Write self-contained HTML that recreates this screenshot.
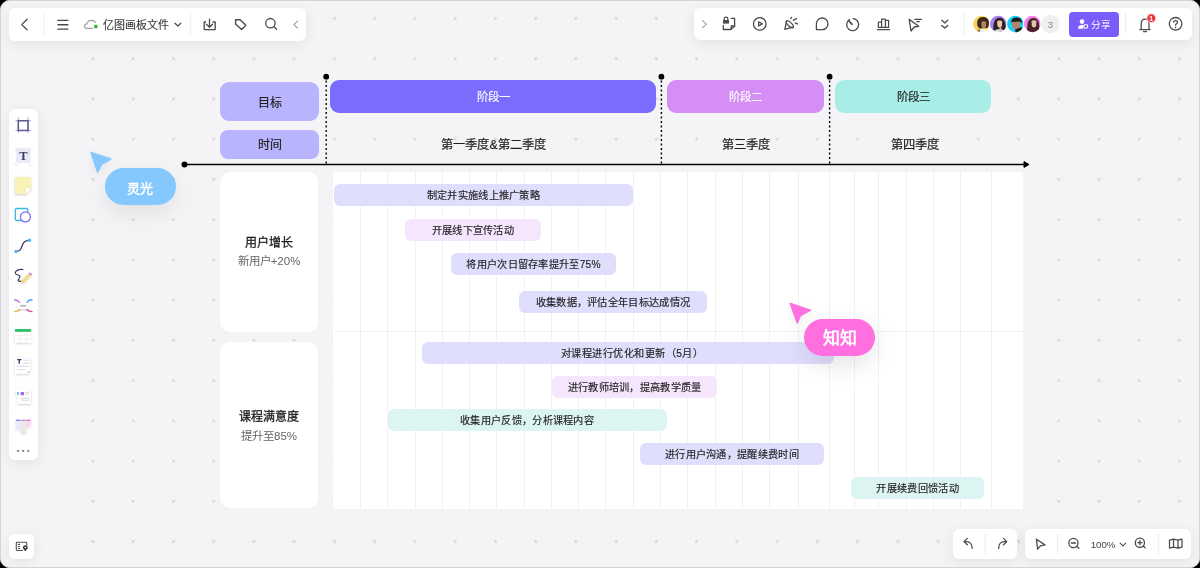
<!DOCTYPE html>
<html lang="zh-CN"><head><meta charset="utf-8">
<style>
html,body{margin:0;padding:0;width:1200px;height:568px;overflow:hidden;background:#000;}
body{font-family:"Liberation Sans",sans-serif;}
#win{position:absolute;left:0;top:0;width:1200px;height:568px;border-radius:10px;background:#f4f4f6;overflow:hidden;will-change:transform;}
#brd{position:absolute;left:0;top:0;width:1198px;height:566px;border:1px solid #d4d4d6;border-radius:10px;}
.a{position:absolute;}
.bar{position:absolute;height:22px;border-radius:6px;font-size:10.2px;letter-spacing:0.3px;text-indent:0.3px;color:#1f1f1f;text-align:center;line-height:23.3px;white-space:nowrap;-webkit-text-stroke:0.15px #1f1f1f;}
.lav{background:#e0defd;}
.pnk{background:#f5e6fd;}
.mnt{background:#dcf5f2;}
.tb{position:absolute;background:#fff;border-radius:6px;box-shadow:0 3px 14px rgba(0,0,0,0.075);}
.stg{position:absolute;border-radius:9px;color:#fff;font-size:11.5px;text-align:center;-webkit-text-stroke:0.1px #fff;}
.hdr{position:absolute;font-size:12.3px;color:#1f1f1f;text-align:center;-webkit-text-stroke:0.2px #1f1f1f;}
.vl{position:absolute;top:0;width:1px;height:337px;background:#f1f1f4;}
.lbl{position:absolute;left:220px;width:98px;background:#fff;border-radius:10px;text-align:center;}
svg{position:absolute;overflow:visible;}
</style></head><body>
<div id="win">
<svg style="left:0;top:0" width="1200" height="568"><g fill="#dcdcdd"><circle cx="93.00" cy="18.40" r="1.65"/><circle cx="93.00" cy="58.64" r="1.65"/><circle cx="93.00" cy="98.88" r="1.65"/><circle cx="93.00" cy="139.12" r="1.65"/><circle cx="93.00" cy="179.36" r="1.65"/><circle cx="93.00" cy="219.60" r="1.65"/><circle cx="93.00" cy="259.84" r="1.65"/><circle cx="93.00" cy="300.08" r="1.65"/><circle cx="93.00" cy="340.32" r="1.65"/><circle cx="93.00" cy="380.56" r="1.65"/><circle cx="93.00" cy="420.80" r="1.65"/><circle cx="93.00" cy="461.04" r="1.65"/><circle cx="93.00" cy="501.28" r="1.65"/><circle cx="93.00" cy="541.52" r="1.65"/><circle cx="133.24" cy="18.40" r="1.65"/><circle cx="133.24" cy="58.64" r="1.65"/><circle cx="133.24" cy="98.88" r="1.65"/><circle cx="133.24" cy="139.12" r="1.65"/><circle cx="133.24" cy="179.36" r="1.65"/><circle cx="133.24" cy="219.60" r="1.65"/><circle cx="133.24" cy="259.84" r="1.65"/><circle cx="133.24" cy="300.08" r="1.65"/><circle cx="133.24" cy="340.32" r="1.65"/><circle cx="133.24" cy="380.56" r="1.65"/><circle cx="133.24" cy="420.80" r="1.65"/><circle cx="133.24" cy="461.04" r="1.65"/><circle cx="133.24" cy="501.28" r="1.65"/><circle cx="133.24" cy="541.52" r="1.65"/><circle cx="173.48" cy="18.40" r="1.65"/><circle cx="173.48" cy="58.64" r="1.65"/><circle cx="173.48" cy="98.88" r="1.65"/><circle cx="173.48" cy="139.12" r="1.65"/><circle cx="173.48" cy="179.36" r="1.65"/><circle cx="173.48" cy="219.60" r="1.65"/><circle cx="173.48" cy="259.84" r="1.65"/><circle cx="173.48" cy="300.08" r="1.65"/><circle cx="173.48" cy="340.32" r="1.65"/><circle cx="173.48" cy="380.56" r="1.65"/><circle cx="173.48" cy="420.80" r="1.65"/><circle cx="173.48" cy="461.04" r="1.65"/><circle cx="173.48" cy="501.28" r="1.65"/><circle cx="173.48" cy="541.52" r="1.65"/><circle cx="213.72" cy="18.40" r="1.65"/><circle cx="213.72" cy="58.64" r="1.65"/><circle cx="213.72" cy="98.88" r="1.65"/><circle cx="213.72" cy="139.12" r="1.65"/><circle cx="213.72" cy="179.36" r="1.65"/><circle cx="213.72" cy="219.60" r="1.65"/><circle cx="213.72" cy="259.84" r="1.65"/><circle cx="213.72" cy="300.08" r="1.65"/><circle cx="213.72" cy="340.32" r="1.65"/><circle cx="213.72" cy="380.56" r="1.65"/><circle cx="213.72" cy="420.80" r="1.65"/><circle cx="213.72" cy="461.04" r="1.65"/><circle cx="213.72" cy="501.28" r="1.65"/><circle cx="213.72" cy="541.52" r="1.65"/><circle cx="253.96" cy="18.40" r="1.65"/><circle cx="253.96" cy="58.64" r="1.65"/><circle cx="253.96" cy="98.88" r="1.65"/><circle cx="253.96" cy="139.12" r="1.65"/><circle cx="253.96" cy="179.36" r="1.65"/><circle cx="253.96" cy="219.60" r="1.65"/><circle cx="253.96" cy="259.84" r="1.65"/><circle cx="253.96" cy="300.08" r="1.65"/><circle cx="253.96" cy="340.32" r="1.65"/><circle cx="253.96" cy="380.56" r="1.65"/><circle cx="253.96" cy="420.80" r="1.65"/><circle cx="253.96" cy="461.04" r="1.65"/><circle cx="253.96" cy="501.28" r="1.65"/><circle cx="253.96" cy="541.52" r="1.65"/><circle cx="294.20" cy="18.40" r="1.65"/><circle cx="294.20" cy="58.64" r="1.65"/><circle cx="294.20" cy="98.88" r="1.65"/><circle cx="294.20" cy="139.12" r="1.65"/><circle cx="294.20" cy="179.36" r="1.65"/><circle cx="294.20" cy="219.60" r="1.65"/><circle cx="294.20" cy="259.84" r="1.65"/><circle cx="294.20" cy="300.08" r="1.65"/><circle cx="294.20" cy="340.32" r="1.65"/><circle cx="294.20" cy="380.56" r="1.65"/><circle cx="294.20" cy="420.80" r="1.65"/><circle cx="294.20" cy="461.04" r="1.65"/><circle cx="294.20" cy="501.28" r="1.65"/><circle cx="294.20" cy="541.52" r="1.65"/><circle cx="334.44" cy="18.40" r="1.65"/><circle cx="334.44" cy="58.64" r="1.65"/><circle cx="334.44" cy="98.88" r="1.65"/><circle cx="334.44" cy="139.12" r="1.65"/><circle cx="334.44" cy="179.36" r="1.65"/><circle cx="334.44" cy="219.60" r="1.65"/><circle cx="334.44" cy="259.84" r="1.65"/><circle cx="334.44" cy="300.08" r="1.65"/><circle cx="334.44" cy="340.32" r="1.65"/><circle cx="334.44" cy="380.56" r="1.65"/><circle cx="334.44" cy="420.80" r="1.65"/><circle cx="334.44" cy="461.04" r="1.65"/><circle cx="334.44" cy="501.28" r="1.65"/><circle cx="334.44" cy="541.52" r="1.65"/><circle cx="374.68" cy="18.40" r="1.65"/><circle cx="374.68" cy="58.64" r="1.65"/><circle cx="374.68" cy="98.88" r="1.65"/><circle cx="374.68" cy="139.12" r="1.65"/><circle cx="374.68" cy="179.36" r="1.65"/><circle cx="374.68" cy="219.60" r="1.65"/><circle cx="374.68" cy="259.84" r="1.65"/><circle cx="374.68" cy="300.08" r="1.65"/><circle cx="374.68" cy="340.32" r="1.65"/><circle cx="374.68" cy="380.56" r="1.65"/><circle cx="374.68" cy="420.80" r="1.65"/><circle cx="374.68" cy="461.04" r="1.65"/><circle cx="374.68" cy="501.28" r="1.65"/><circle cx="374.68" cy="541.52" r="1.65"/><circle cx="414.92" cy="18.40" r="1.65"/><circle cx="414.92" cy="58.64" r="1.65"/><circle cx="414.92" cy="98.88" r="1.65"/><circle cx="414.92" cy="139.12" r="1.65"/><circle cx="414.92" cy="179.36" r="1.65"/><circle cx="414.92" cy="219.60" r="1.65"/><circle cx="414.92" cy="259.84" r="1.65"/><circle cx="414.92" cy="300.08" r="1.65"/><circle cx="414.92" cy="340.32" r="1.65"/><circle cx="414.92" cy="380.56" r="1.65"/><circle cx="414.92" cy="420.80" r="1.65"/><circle cx="414.92" cy="461.04" r="1.65"/><circle cx="414.92" cy="501.28" r="1.65"/><circle cx="414.92" cy="541.52" r="1.65"/><circle cx="455.16" cy="18.40" r="1.65"/><circle cx="455.16" cy="58.64" r="1.65"/><circle cx="455.16" cy="98.88" r="1.65"/><circle cx="455.16" cy="139.12" r="1.65"/><circle cx="455.16" cy="179.36" r="1.65"/><circle cx="455.16" cy="219.60" r="1.65"/><circle cx="455.16" cy="259.84" r="1.65"/><circle cx="455.16" cy="300.08" r="1.65"/><circle cx="455.16" cy="340.32" r="1.65"/><circle cx="455.16" cy="380.56" r="1.65"/><circle cx="455.16" cy="420.80" r="1.65"/><circle cx="455.16" cy="461.04" r="1.65"/><circle cx="455.16" cy="501.28" r="1.65"/><circle cx="455.16" cy="541.52" r="1.65"/><circle cx="495.40" cy="18.40" r="1.65"/><circle cx="495.40" cy="58.64" r="1.65"/><circle cx="495.40" cy="98.88" r="1.65"/><circle cx="495.40" cy="139.12" r="1.65"/><circle cx="495.40" cy="179.36" r="1.65"/><circle cx="495.40" cy="219.60" r="1.65"/><circle cx="495.40" cy="259.84" r="1.65"/><circle cx="495.40" cy="300.08" r="1.65"/><circle cx="495.40" cy="340.32" r="1.65"/><circle cx="495.40" cy="380.56" r="1.65"/><circle cx="495.40" cy="420.80" r="1.65"/><circle cx="495.40" cy="461.04" r="1.65"/><circle cx="495.40" cy="501.28" r="1.65"/><circle cx="495.40" cy="541.52" r="1.65"/><circle cx="535.64" cy="18.40" r="1.65"/><circle cx="535.64" cy="58.64" r="1.65"/><circle cx="535.64" cy="98.88" r="1.65"/><circle cx="535.64" cy="139.12" r="1.65"/><circle cx="535.64" cy="179.36" r="1.65"/><circle cx="535.64" cy="219.60" r="1.65"/><circle cx="535.64" cy="259.84" r="1.65"/><circle cx="535.64" cy="300.08" r="1.65"/><circle cx="535.64" cy="340.32" r="1.65"/><circle cx="535.64" cy="380.56" r="1.65"/><circle cx="535.64" cy="420.80" r="1.65"/><circle cx="535.64" cy="461.04" r="1.65"/><circle cx="535.64" cy="501.28" r="1.65"/><circle cx="535.64" cy="541.52" r="1.65"/><circle cx="575.88" cy="18.40" r="1.65"/><circle cx="575.88" cy="58.64" r="1.65"/><circle cx="575.88" cy="98.88" r="1.65"/><circle cx="575.88" cy="139.12" r="1.65"/><circle cx="575.88" cy="179.36" r="1.65"/><circle cx="575.88" cy="219.60" r="1.65"/><circle cx="575.88" cy="259.84" r="1.65"/><circle cx="575.88" cy="300.08" r="1.65"/><circle cx="575.88" cy="340.32" r="1.65"/><circle cx="575.88" cy="380.56" r="1.65"/><circle cx="575.88" cy="420.80" r="1.65"/><circle cx="575.88" cy="461.04" r="1.65"/><circle cx="575.88" cy="501.28" r="1.65"/><circle cx="575.88" cy="541.52" r="1.65"/><circle cx="616.12" cy="18.40" r="1.65"/><circle cx="616.12" cy="58.64" r="1.65"/><circle cx="616.12" cy="98.88" r="1.65"/><circle cx="616.12" cy="139.12" r="1.65"/><circle cx="616.12" cy="179.36" r="1.65"/><circle cx="616.12" cy="219.60" r="1.65"/><circle cx="616.12" cy="259.84" r="1.65"/><circle cx="616.12" cy="300.08" r="1.65"/><circle cx="616.12" cy="340.32" r="1.65"/><circle cx="616.12" cy="380.56" r="1.65"/><circle cx="616.12" cy="420.80" r="1.65"/><circle cx="616.12" cy="461.04" r="1.65"/><circle cx="616.12" cy="501.28" r="1.65"/><circle cx="616.12" cy="541.52" r="1.65"/><circle cx="656.36" cy="18.40" r="1.65"/><circle cx="656.36" cy="58.64" r="1.65"/><circle cx="656.36" cy="98.88" r="1.65"/><circle cx="656.36" cy="139.12" r="1.65"/><circle cx="656.36" cy="179.36" r="1.65"/><circle cx="656.36" cy="219.60" r="1.65"/><circle cx="656.36" cy="259.84" r="1.65"/><circle cx="656.36" cy="300.08" r="1.65"/><circle cx="656.36" cy="340.32" r="1.65"/><circle cx="656.36" cy="380.56" r="1.65"/><circle cx="656.36" cy="420.80" r="1.65"/><circle cx="656.36" cy="461.04" r="1.65"/><circle cx="656.36" cy="501.28" r="1.65"/><circle cx="656.36" cy="541.52" r="1.65"/><circle cx="696.60" cy="18.40" r="1.65"/><circle cx="696.60" cy="58.64" r="1.65"/><circle cx="696.60" cy="98.88" r="1.65"/><circle cx="696.60" cy="139.12" r="1.65"/><circle cx="696.60" cy="179.36" r="1.65"/><circle cx="696.60" cy="219.60" r="1.65"/><circle cx="696.60" cy="259.84" r="1.65"/><circle cx="696.60" cy="300.08" r="1.65"/><circle cx="696.60" cy="340.32" r="1.65"/><circle cx="696.60" cy="380.56" r="1.65"/><circle cx="696.60" cy="420.80" r="1.65"/><circle cx="696.60" cy="461.04" r="1.65"/><circle cx="696.60" cy="501.28" r="1.65"/><circle cx="696.60" cy="541.52" r="1.65"/><circle cx="736.84" cy="18.40" r="1.65"/><circle cx="736.84" cy="58.64" r="1.65"/><circle cx="736.84" cy="98.88" r="1.65"/><circle cx="736.84" cy="139.12" r="1.65"/><circle cx="736.84" cy="179.36" r="1.65"/><circle cx="736.84" cy="219.60" r="1.65"/><circle cx="736.84" cy="259.84" r="1.65"/><circle cx="736.84" cy="300.08" r="1.65"/><circle cx="736.84" cy="340.32" r="1.65"/><circle cx="736.84" cy="380.56" r="1.65"/><circle cx="736.84" cy="420.80" r="1.65"/><circle cx="736.84" cy="461.04" r="1.65"/><circle cx="736.84" cy="501.28" r="1.65"/><circle cx="736.84" cy="541.52" r="1.65"/><circle cx="777.08" cy="18.40" r="1.65"/><circle cx="777.08" cy="58.64" r="1.65"/><circle cx="777.08" cy="98.88" r="1.65"/><circle cx="777.08" cy="139.12" r="1.65"/><circle cx="777.08" cy="179.36" r="1.65"/><circle cx="777.08" cy="219.60" r="1.65"/><circle cx="777.08" cy="259.84" r="1.65"/><circle cx="777.08" cy="300.08" r="1.65"/><circle cx="777.08" cy="340.32" r="1.65"/><circle cx="777.08" cy="380.56" r="1.65"/><circle cx="777.08" cy="420.80" r="1.65"/><circle cx="777.08" cy="461.04" r="1.65"/><circle cx="777.08" cy="501.28" r="1.65"/><circle cx="777.08" cy="541.52" r="1.65"/><circle cx="817.32" cy="18.40" r="1.65"/><circle cx="817.32" cy="58.64" r="1.65"/><circle cx="817.32" cy="98.88" r="1.65"/><circle cx="817.32" cy="139.12" r="1.65"/><circle cx="817.32" cy="179.36" r="1.65"/><circle cx="817.32" cy="219.60" r="1.65"/><circle cx="817.32" cy="259.84" r="1.65"/><circle cx="817.32" cy="300.08" r="1.65"/><circle cx="817.32" cy="340.32" r="1.65"/><circle cx="817.32" cy="380.56" r="1.65"/><circle cx="817.32" cy="420.80" r="1.65"/><circle cx="817.32" cy="461.04" r="1.65"/><circle cx="817.32" cy="501.28" r="1.65"/><circle cx="817.32" cy="541.52" r="1.65"/><circle cx="857.56" cy="18.40" r="1.65"/><circle cx="857.56" cy="58.64" r="1.65"/><circle cx="857.56" cy="98.88" r="1.65"/><circle cx="857.56" cy="139.12" r="1.65"/><circle cx="857.56" cy="179.36" r="1.65"/><circle cx="857.56" cy="219.60" r="1.65"/><circle cx="857.56" cy="259.84" r="1.65"/><circle cx="857.56" cy="300.08" r="1.65"/><circle cx="857.56" cy="340.32" r="1.65"/><circle cx="857.56" cy="380.56" r="1.65"/><circle cx="857.56" cy="420.80" r="1.65"/><circle cx="857.56" cy="461.04" r="1.65"/><circle cx="857.56" cy="501.28" r="1.65"/><circle cx="857.56" cy="541.52" r="1.65"/><circle cx="897.80" cy="18.40" r="1.65"/><circle cx="897.80" cy="58.64" r="1.65"/><circle cx="897.80" cy="98.88" r="1.65"/><circle cx="897.80" cy="139.12" r="1.65"/><circle cx="897.80" cy="179.36" r="1.65"/><circle cx="897.80" cy="219.60" r="1.65"/><circle cx="897.80" cy="259.84" r="1.65"/><circle cx="897.80" cy="300.08" r="1.65"/><circle cx="897.80" cy="340.32" r="1.65"/><circle cx="897.80" cy="380.56" r="1.65"/><circle cx="897.80" cy="420.80" r="1.65"/><circle cx="897.80" cy="461.04" r="1.65"/><circle cx="897.80" cy="501.28" r="1.65"/><circle cx="897.80" cy="541.52" r="1.65"/><circle cx="938.04" cy="18.40" r="1.65"/><circle cx="938.04" cy="58.64" r="1.65"/><circle cx="938.04" cy="98.88" r="1.65"/><circle cx="938.04" cy="139.12" r="1.65"/><circle cx="938.04" cy="179.36" r="1.65"/><circle cx="938.04" cy="219.60" r="1.65"/><circle cx="938.04" cy="259.84" r="1.65"/><circle cx="938.04" cy="300.08" r="1.65"/><circle cx="938.04" cy="340.32" r="1.65"/><circle cx="938.04" cy="380.56" r="1.65"/><circle cx="938.04" cy="420.80" r="1.65"/><circle cx="938.04" cy="461.04" r="1.65"/><circle cx="938.04" cy="501.28" r="1.65"/><circle cx="938.04" cy="541.52" r="1.65"/><circle cx="978.28" cy="18.40" r="1.65"/><circle cx="978.28" cy="58.64" r="1.65"/><circle cx="978.28" cy="98.88" r="1.65"/><circle cx="978.28" cy="139.12" r="1.65"/><circle cx="978.28" cy="179.36" r="1.65"/><circle cx="978.28" cy="219.60" r="1.65"/><circle cx="978.28" cy="259.84" r="1.65"/><circle cx="978.28" cy="300.08" r="1.65"/><circle cx="978.28" cy="340.32" r="1.65"/><circle cx="978.28" cy="380.56" r="1.65"/><circle cx="978.28" cy="420.80" r="1.65"/><circle cx="978.28" cy="461.04" r="1.65"/><circle cx="978.28" cy="501.28" r="1.65"/><circle cx="978.28" cy="541.52" r="1.65"/><circle cx="1018.52" cy="18.40" r="1.65"/><circle cx="1018.52" cy="58.64" r="1.65"/><circle cx="1018.52" cy="98.88" r="1.65"/><circle cx="1018.52" cy="139.12" r="1.65"/><circle cx="1018.52" cy="179.36" r="1.65"/><circle cx="1018.52" cy="219.60" r="1.65"/><circle cx="1018.52" cy="259.84" r="1.65"/><circle cx="1018.52" cy="300.08" r="1.65"/><circle cx="1018.52" cy="340.32" r="1.65"/><circle cx="1018.52" cy="380.56" r="1.65"/><circle cx="1018.52" cy="420.80" r="1.65"/><circle cx="1018.52" cy="461.04" r="1.65"/><circle cx="1018.52" cy="501.28" r="1.65"/><circle cx="1018.52" cy="541.52" r="1.65"/><circle cx="1058.76" cy="18.40" r="1.65"/><circle cx="1058.76" cy="58.64" r="1.65"/><circle cx="1058.76" cy="98.88" r="1.65"/><circle cx="1058.76" cy="139.12" r="1.65"/><circle cx="1058.76" cy="179.36" r="1.65"/><circle cx="1058.76" cy="219.60" r="1.65"/><circle cx="1058.76" cy="259.84" r="1.65"/><circle cx="1058.76" cy="300.08" r="1.65"/><circle cx="1058.76" cy="340.32" r="1.65"/><circle cx="1058.76" cy="380.56" r="1.65"/><circle cx="1058.76" cy="420.80" r="1.65"/><circle cx="1058.76" cy="461.04" r="1.65"/><circle cx="1058.76" cy="501.28" r="1.65"/><circle cx="1058.76" cy="541.52" r="1.65"/><circle cx="1099.00" cy="18.40" r="1.65"/><circle cx="1099.00" cy="58.64" r="1.65"/><circle cx="1099.00" cy="98.88" r="1.65"/><circle cx="1099.00" cy="139.12" r="1.65"/><circle cx="1099.00" cy="179.36" r="1.65"/><circle cx="1099.00" cy="219.60" r="1.65"/><circle cx="1099.00" cy="259.84" r="1.65"/><circle cx="1099.00" cy="300.08" r="1.65"/><circle cx="1099.00" cy="340.32" r="1.65"/><circle cx="1099.00" cy="380.56" r="1.65"/><circle cx="1099.00" cy="420.80" r="1.65"/><circle cx="1099.00" cy="461.04" r="1.65"/><circle cx="1099.00" cy="501.28" r="1.65"/><circle cx="1099.00" cy="541.52" r="1.65"/><circle cx="1139.24" cy="18.40" r="1.65"/><circle cx="1139.24" cy="58.64" r="1.65"/><circle cx="1139.24" cy="98.88" r="1.65"/><circle cx="1139.24" cy="139.12" r="1.65"/><circle cx="1139.24" cy="179.36" r="1.65"/><circle cx="1139.24" cy="219.60" r="1.65"/><circle cx="1139.24" cy="259.84" r="1.65"/><circle cx="1139.24" cy="300.08" r="1.65"/><circle cx="1139.24" cy="340.32" r="1.65"/><circle cx="1139.24" cy="380.56" r="1.65"/><circle cx="1139.24" cy="420.80" r="1.65"/><circle cx="1139.24" cy="461.04" r="1.65"/><circle cx="1139.24" cy="501.28" r="1.65"/><circle cx="1139.24" cy="541.52" r="1.65"/><circle cx="1179.48" cy="18.40" r="1.65"/><circle cx="1179.48" cy="58.64" r="1.65"/><circle cx="1179.48" cy="98.88" r="1.65"/><circle cx="1179.48" cy="139.12" r="1.65"/><circle cx="1179.48" cy="179.36" r="1.65"/><circle cx="1179.48" cy="219.60" r="1.65"/><circle cx="1179.48" cy="259.84" r="1.65"/><circle cx="1179.48" cy="300.08" r="1.65"/><circle cx="1179.48" cy="340.32" r="1.65"/><circle cx="1179.48" cy="380.56" r="1.65"/><circle cx="1179.48" cy="420.80" r="1.65"/><circle cx="1179.48" cy="461.04" r="1.65"/><circle cx="1179.48" cy="501.28" r="1.65"/><circle cx="1179.48" cy="541.52" r="1.65"/></g></svg>

<!-- header boxes -->
<div class="a" style="left:220px;top:82px;width:99px;height:39px;border-radius:9px;background:#b8b4fd;font-size:12px;line-height:42px;text-align:center;color:#1f1f1f;-webkit-text-stroke:0.2px #1f1f1f">目标</div>
<div class="a" style="left:220px;top:130px;width:99px;height:29px;border-radius:8px;background:#b8b4fd;font-size:12px;line-height:31px;text-align:center;color:#1f1f1f;-webkit-text-stroke:0.2px #1f1f1f">时间</div>

<div class="stg" style="left:330px;top:80px;width:326px;height:33px;line-height:34.5px;background:#7a6cfd">阶段一</div>
<div class="stg" style="left:667px;top:80px;width:157px;height:33px;line-height:34.5px;background:#d58ef5">阶段二</div>
<div class="stg" style="left:835px;top:80px;width:156px;height:33px;line-height:34.5px;background:#a8eee6;color:#1f1f1f;-webkit-text-stroke:0.15px #1f1f1f">阶段三</div>

<div class="hdr" style="left:326px;top:137px;width:335px;line-height:16px">第一季度&amp;第二季度</div>
<div class="hdr" style="left:661px;top:137px;width:169px;line-height:16px">第三季度</div>
<div class="hdr" style="left:830px;top:137px;width:170px;line-height:16px">第四季度</div>

<!-- row labels -->
<div class="lbl" style="top:172px;height:160px"><div style="position:absolute;left:0;right:0;top:63px;font-size:12px;color:#1a1a1a;line-height:16px;-webkit-text-stroke:0.28px #1a1a1a">用户增长</div><div style="position:absolute;left:0;right:0;top:80.5px;font-size:11.5px;color:#666;line-height:16px">新用户+20%</div></div>
<div class="lbl" style="top:342px;height:166px"><div style="position:absolute;left:0;right:0;top:67px;font-size:12px;color:#1a1a1a;line-height:16px;-webkit-text-stroke:0.28px #1a1a1a">课程满意度</div><div style="position:absolute;left:0;right:0;top:85.5px;font-size:11.5px;color:#666;line-height:16px">提升至85%</div></div>

<!-- chart area -->
<div class="a" style="left:333px;top:172px;width:689.5px;height:337px;background:#fff;overflow:hidden">
<div class="vl" style="left:27.0px"></div><div class="vl" style="left:54.3px"></div><div class="vl" style="left:81.5px"></div><div class="vl" style="left:109.0px"></div><div class="vl" style="left:136.0px"></div><div class="vl" style="left:163.2px"></div><div class="vl" style="left:190.5px"></div><div class="vl" style="left:218.2px"></div><div class="vl" style="left:245.2px"></div><div class="vl" style="left:272.3px"></div><div class="vl" style="left:300.3px"></div><div class="vl" style="left:327.0px"></div><div class="vl" style="left:354.0px"></div><div class="vl" style="left:381.5px"></div><div class="vl" style="left:409.0px"></div><div class="vl" style="left:436.0px"></div><div class="vl" style="left:465.4px"></div><div class="vl" style="left:495.8px"></div><div class="vl" style="left:521.0px"></div><div class="vl" style="left:545.1px"></div><div class="vl" style="left:572.8px"></div><div class="vl" style="left:599.8px"></div><div class="vl" style="left:626.8px"></div><div class="vl" style="left:658.3px"></div>
<div class="a" style="left:2px;top:159.3px;width:690px;height:1px;background:#f1f1f4"></div>
</div>

<div class="bar lav" style="left:333.5px;top:183.5px;width:299.5px">制定并实施线上推广策略</div>
<div class="bar pnk" style="left:405px;top:219.2px;width:135.5px">开展线下宣传活动</div>
<div class="bar lav" style="left:451px;top:253px;width:165px">将用户次日留存率提升至75%</div>
<div class="bar lav" style="left:519px;top:291px;width:187.5px">收集数据，评估全年目标达成情况</div>
<div class="bar lav" style="left:421.5px;top:342.3px;width:412px;box-sizing:border-box;padding-left:9px;letter-spacing:0.5px">对课程进行优化和更新（5月）</div>
<div class="bar pnk" style="left:552px;top:375.5px;width:165px">进行教师培训，提高教学质量</div>
<div class="bar mnt" style="left:387.5px;top:409px;width:279px">收集用户反馈，分析课程内容</div>
<div class="bar lav" style="left:640px;top:443.3px;width:183.5px">进行用户沟通，提醒续费时间</div>
<div class="bar mnt" style="left:851px;top:477px;width:133px">开展续费回馈活动</div>

<!-- axis -->
<svg style="left:0;top:0" width="1200" height="568">
<line x1="184.5" y1="164.5" x2="1024" y2="164.5" stroke="#000" stroke-width="1.6"/>
<circle cx="184.5" cy="164.5" r="3" fill="#000"/>
<path d="M1024 161.6 L1029 164.5 L1024 167.4 Z" fill="#000" stroke="#000" stroke-width="1" stroke-linejoin="round"/>
<g stroke="#000" stroke-width="1.4" stroke-dasharray="2 2.5">
<line x1="326.2" y1="80.5" x2="326.2" y2="164"/>
<line x1="661.4" y1="80.5" x2="661.4" y2="164"/>
<line x1="829.6" y1="80.5" x2="829.6" y2="164"/>
</g>
<g fill="#000"><circle cx="326.2" cy="76.7" r="2.9"/><circle cx="661.4" cy="76.7" r="2.9"/><circle cx="829.6" cy="76.7" r="2.9"/></g>
</svg>

<!-- TOOLBARS -->
<div class="tb" style="left:9px;top:8px;width:297px;height:33px"></div>
<div class="a" style="left:103px;top:16.5px;font-size:11px;line-height:16px;color:#3a3a3a;-webkit-text-stroke:0.1px #3a3a3a">亿图画板文件</div>
<div class="tb" style="left:694px;top:8px;width:498px;height:32px"></div>
<div class="a" style="left:1069px;top:12px;width:50px;height:24.5px;border-radius:4px;background:#7a5cfb"></div>
<div class="a" style="left:1090.5px;top:16.5px;font-size:9.6px;line-height:16px;color:#fff">分享</div>
<svg style="left:0;top:0" width="1200" height="568"><g fill="#fff"><circle cx="1082" cy="21.6" r="2.3"/><path d="M1078 28.7 C1078 26.2 1079.6 25.1 1082 25.1 C1082.8 25.1 1083.5 25.2 1084 25.4 C1083.4 26 1083.2 26.8 1083.2 27.6 C1083.2 28 1083.3 28.4 1083.4 28.7 Z"/></g><circle cx="1085.8" cy="26.4" r="1.9" fill="none" stroke="#fff" stroke-width="1.1"/></svg>
<div class="tb" style="left:9px;top:109px;width:29px;height:351px"></div>
<div class="tb" style="left:9px;top:534px;width:25px;height:25px;border-radius:5px"></div>
<div class="tb" style="left:953px;top:529px;width:64px;height:30px"></div>
<div class="tb" style="left:1025px;top:529px;width:166px;height:30px"></div>
<div class="a" style="left:1090.7px;top:537.5px;font-size:9.7px;line-height:13px;color:#444">100%</div>

<svg style="left:0;top:0" width="1200" height="568">
<!-- top-left toolbar -->
<g fill="none" stroke="#4a4a4a" stroke-width="1.3" stroke-linecap="round" stroke-linejoin="round">
<path d="M27.1 19.3 L21.7 24.6 L27.1 29.8"/>
<path d="M57.9 20.4 H67.9 M57.9 24.75 H67.9 M57.9 29.2 H67.9"/>
<path d="M175 23.2 L177.9 26 L180.8 23.2" stroke-width="1.2"/>
<path d="M205.6 22 H204.2 V29.6 H215.2 V22 H213"/>
<path d="M209.5 19.2 V27 M206.4 24.3 L209.5 27.2 L212.6 24.3"/>
<path d="M235.6 19.7 H240.1 L245.8 25.3 L241.6 29.5 L235.6 23.9 Z" stroke-width="1.35"/>
<circle cx="270.4" cy="23.2" r="4.7"/>
<path d="M273.9 26.7 L276.5 29.2"/>
<path d="M297.6 21.2 L294 24.7 L297.6 28.2" stroke="#9a9a9a" stroke-width="1.1"/>
</g>
<path d="M92.6 28.4 H86.6 C85.4 28.4 84.6 27.4 84.6 26.2 C84.6 24.9 85.6 24 86.8 23.9 C87.4 21.8 89.2 20.3 91.4 20.3 C93.2 20.3 94.7 21.2 95.5 22.5" fill="none" stroke="#a0a0a4" stroke-width="1.15" stroke-linecap="round"/>
<circle cx="95.8" cy="26.5" r="1.9" fill="#3ab83a"/>
<rect x="43.5" y="14" width="1" height="20.5" fill="#ededed"/>
<rect x="190.2" y="14" width="1" height="20.5" fill="#ededed"/>

<!-- top-right toolbar -->
<g fill="none" stroke="#4a4a4a" stroke-width="1.3" stroke-linecap="round" stroke-linejoin="round">
<path d="M702.6 20.7 L706.3 24.2 L702.6 27.7" stroke="#9a9a9a" stroke-width="1.1"/>
<path d="M731.2 18.3 H734.6 V26.2 L730.6 29.5 H723.3 V25.4"/>
<path d="M734.6 26 H731.2 V29.4"/>
<circle cx="759.75" cy="23.9" r="6.3"/>
<path d="M758.6 21.8 L762.3 23.9 L758.6 26 Z"/>
<path d="M786.6 21.3 L784.8 29.3 L792.8 27.2"/>
<ellipse cx="789.75" cy="24.2" rx="4.6" ry="1.9" transform="rotate(45 789.75 24.2)"/>
<path d="M790.6 18.6 L791.6 17.4 M793.4 20.2 L796.6 18.6 M795.2 22.9 L797.4 23.9"/>
<path d="M816.4 29.6 L816.4 24.4 A5.8 5.8 0 1 1 822 29.6 Z"/>
<path d="M849.5 19.5 A6 6 0 1 0 853 18.6"/>
<path d="M848.6 20.6 L852.1 24.4" stroke-width="1.6"/>
<path d="M878.4 27.4 V22 H881.6 V27.4 M881.6 27.4 V19 H885.4 V27.4 M885.4 27.4 V20.3 H888.6 V27.4 M878.4 27.4 H888.6" stroke-width="1.25"/>
<path d="M877.4 29.6 H889.6"/>
<path d="M909.2 19.3 L918.7 26.3 L914.3 27 L911 31 Z"/>
<path d="M914.8 19.3 H921.5 M916.9 21.7 H919.3"/>
<path d="M941.8 20.3 L944.8 23 L947.8 20.3 M941.8 25.4 L944.8 28.1 L947.8 25.4"/>
<circle cx="1175.6" cy="23.8" r="6.3"/>
<path d="M1173.6 22 C1173.6 20.3 1177.6 20.3 1177.6 22 C1177.6 23.6 1175.6 23.4 1175.6 25.3"/>
<path d="M1139.8 29.6 H1150.2 M1141.2 29.4 V24 C1141.2 17.5 1149 17.5 1149 24 V29.4 M1143.5 31.6 H1146.5" stroke-width="1.25"/>
</g>
<circle cx="1175.6" cy="27.6" r="0.8" fill="#4a4a4a"/>
<g fill="#4a4a4a"><path d="M723 20 H729 V23.6 H723 Z"/><path d="M724.2 20 V18.6 C724.2 16.6 727.8 16.6 727.8 18.6 V20" fill="none" stroke="#4a4a4a" stroke-width="1.2"/></g>
<rect x="963.3" y="13.3" width="1" height="21.2" fill="#ededed"/>
<rect x="1125" y="13" width="1" height="21" fill="#ededed"/>
<circle cx="1151.3" cy="18.2" r="4.5" fill="#f2333a" stroke="#fff" stroke-width="0.8"/>
<text x="1151.3" y="21" font-size="7" font-weight="bold" fill="#fff" text-anchor="middle" font-family="Liberation Sans">1</text>

<!-- avatars -->
<defs><filter id="soft" x="-20%" y="-20%" width="140%" height="140%"><feGaussianBlur stdDeviation="0.35"/></filter>
<clipPath id="c1"><circle cx="981.5" cy="24" r="8.3"/></clipPath>
<clipPath id="c2"><circle cx="998.3" cy="24" r="8.3"/></clipPath>
<clipPath id="c3"><circle cx="1015.4" cy="24" r="8.3"/></clipPath>
<clipPath id="c4"><circle cx="1032.3" cy="24" r="8.3"/></clipPath>
</defs>
<g>
<circle cx="981.5" cy="24" r="8.3" fill="#fcd35a"/>
<g clip-path="url(#c1)"><g filter="url(#soft)" transform="translate(1.2 0.4)">
<path d="M976.2 25 C975.2 20 977.5 16.6 982 16.6 C986.5 16.6 988.4 20 987.6 24.5 C987 27 985.6 27.8 985 27.6 L979 28 C977.6 27.6 976.6 26.6 976.2 25 Z" fill="#3b2a1f"/>
<path d="M980.2 21.5 C981.5 20.6 984.2 20.8 985 22.2 L984.8 26 C984 28 981.4 28.4 980.4 26.6 Z" fill="#b78466"/>
<path d="M977 33 C977.5 29.5 979.5 28.4 982 28.4 C984.6 28.4 986.4 29.6 986.8 33 Z" fill="#f2f2f2"/>
<path d="M975 33 C975.4 30.5 976.5 29 978.5 28.6 L979 33 Z" fill="#9a6a4c"/>
</g></g>
<circle cx="998.3" cy="24" r="9.1" fill="#fff"/>
<circle cx="998.3" cy="24" r="8.3" fill="#a37ef6"/>
<g clip-path="url(#c2)"><g filter="url(#soft)" transform="translate(0.8 0.6)">
<path d="M992.8 30 C992.2 24 993 17.2 998.8 17.2 C1004 17.2 1004.8 23 1005.2 30 Z" fill="#2b201c"/>
<path d="M996.3 21 C997 19.6 1000.6 19.6 1001.4 21 L1001.2 25.5 C1000.6 27.4 997.2 27.4 996.6 25.5 Z" fill="#e8c3ad"/>
<path d="M992.5 33 C993 29.6 995 28.6 998.5 28.6 C1002 28.6 1004 29.6 1004.6 33 Z" fill="#d7e6f1"/>
<path d="M998.6 26.5 L1000.6 26.8 L1000.4 33 L998.8 33 Z" fill="#e6bca4"/>
</g></g>
<circle cx="1015.4" cy="24" r="9.1" fill="#fff"/>
<circle cx="1015.4" cy="24" r="8.3" fill="#1bcff6"/>
<g clip-path="url(#c3)"><g filter="url(#soft)" transform="translate(0.4 0.6)">
<path d="M1011 22.5 C1010.4 18.6 1013 17 1016.4 17 C1020 17 1022 19 1021.4 23 L1019.8 21.2 L1012.6 21.4 Z" fill="#1f1a18"/>
<path d="M1011.8 21.2 L1019.8 21.2 C1020.4 23.5 1019.6 27 1018 28.2 C1016.4 29.4 1013.6 29 1012.6 27.4 C1011.8 26 1011.6 23.4 1011.8 21.2 Z" fill="#b4836c"/>
<path d="M1014.6 29 C1016.6 28.2 1019 27.4 1021 26.5 L1023.5 33 L1015.4 33 Z" fill="#1e2024"/>
</g></g>
<circle cx="1032.3" cy="24" r="9.1" fill="#fff"/>
<circle cx="1032.3" cy="24" r="8.3" fill="#f87ee9"/>
<g clip-path="url(#c4)"><g filter="url(#soft)" transform="translate(0.8 0.6)">
<path d="M1026.6 31 C1026 23 1027 17.4 1032.8 17.4 C1038 17.4 1038.6 23 1038.4 31 Z" fill="#3d2824"/>
<path d="M1030.8 20.6 C1031.4 19.4 1035 19.4 1035.6 20.6 L1035.4 25.5 C1034.8 27.4 1031.6 27.4 1031 25.5 Z" fill="#ecbcae"/>
<path d="M1028 33 C1028.4 30 1030 29 1033 29 C1036 29 1037.4 30 1037.8 33 Z" fill="#5c2430"/>
</g></g>
<circle cx="1050.4" cy="24" r="10" fill="#fff"/>
<circle cx="1050.4" cy="24" r="9.2" fill="#efeff1"/>
<text x="1050.4" y="27.5" font-size="9.6" fill="#8a8a8a" text-anchor="middle" font-family="Liberation Sans">3</text>
</g>

<!-- left toolbar icons -->
<defs><filter id="ish" x="-30%" y="-30%" width="160%" height="160%"><feDropShadow dx="0" dy="0.8" stdDeviation="0.9" flood-color="#000" flood-opacity="0.22"/></filter></defs>
<g>
<path d="M18.3 117.6 V133 M28 117.6 V133 M15.5 120.7 H31 M15.5 130.4 H31" fill="none" stroke="#a0a0d0" stroke-width="1"/>
<path d="M18.3 120.7 H28 V130.4 H18.3 Z" fill="none" stroke="#5c5c8c" stroke-width="1.5"/>
<rect x="16" y="148" width="14.6" height="15" fill="#ebeaf8"/>
<g fill="#fff" filter="url(#ish)"><rect x="15" y="147" width="2.2" height="2.2"/><rect x="29.4" y="147" width="2.2" height="2.2"/><rect x="15" y="161.8" width="2.2" height="2.2"/><rect x="29.4" y="161.8" width="2.2" height="2.2"/></g>
<text x="23.3" y="160.2" font-size="12.5" font-weight="bold" fill="#3b3b6b" text-anchor="middle" font-family="Liberation Serif">T</text>
<g filter="url(#ish)"><path d="M15 177 H31.2 V188.8 L26 194 H15 Z" fill="#f8f1b8"/>
<path d="M31.2 188.8 H26.6 C26.2 188.8 26 189 26 189.4 V194 Z" fill="#ffffff"/></g>
<rect x="15.3" y="208.5" width="12.5" height="12" rx="1.5" fill="#fff" stroke="#3ab5df" stroke-width="1.3"/>
<circle cx="25.4" cy="216.9" r="5" fill="#fff" stroke="#7a6cfd" stroke-width="1.3"/>
<path d="M16 251.4 C20.5 251.5 20.8 249 22.2 245.5 C23.6 241.8 25.5 240.4 29.4 240.2" fill="none" stroke="#3a3a5c" stroke-width="1.3"/>
<circle cx="16" cy="251.4" r="1.7" fill="#4bb6f4"/><circle cx="29.5" cy="240.2" r="1.7" fill="#4bb6f4"/>
<path d="M22.8 269.6 C19.5 268.6 15.2 270.8 15.2 272.9 C15.2 275 19.8 274.6 19.9 276.6 C20 278.6 16.8 280.2 18.6 281.2 C19.4 281.6 20.4 281.4 21 281" fill="none" stroke="#3a3a6a" stroke-width="1.2" stroke-linecap="round"/>
<g filter="url(#ish)"><path d="M21.6 280.6 L28.8 273.4 L31 275.6 L23.8 282.8 L21.2 283.2 Z" fill="#f6da78"/>
<path d="M28.8 273.4 L29.8 272.4 L32 274.6 L31 275.6 Z" fill="#c45ce8"/></g>
<g fill="none" stroke-width="1.4" stroke-linecap="round">
<path d="M14.6 300 Q18.6 300 19.8 303.4" stroke="#c56ee8"/>
<path d="M32 299.8 Q28 299.8 26.8 303.3" stroke="#4aa6f0"/>
<path d="M14.6 311.6 Q18.6 311.6 19.8 309" stroke="#f0b23e"/>
<path d="M32 311.6 Q28 311.6 26.8 309" stroke="#e0498f"/>
</g>
<rect x="17.7" y="302.7" width="10.6" height="6.4" rx="0.6" fill="#fff" filter="url(#ish)"/>
<rect x="20" y="304.8" width="6.2" height="2.1" rx="0.4" fill="#c4c4c8"/>
<g filter="url(#ish)">
<rect x="14.9" y="329" width="16.3" height="13.8" rx="0.8" fill="#fff"/>
</g>
<rect x="14.9" y="329" width="16.3" height="2.8" rx="0.8" fill="#2fbf6e"/>
<rect x="14.9" y="331.6" width="16.3" height="0.4" fill="#2fbf6e"/>
<path d="M14.9 335.4 H31.2 M14.9 339.1 H31.2 M20.4 332 V342.8 M26.3 332 V342.8" stroke="#ececef" stroke-width="0.8"/>
<g filter="url(#ish)"><path d="M14.9 357.4 H30.4 V371 L27.6 373.8 H14.9 Z" fill="#fff"/></g>
<path d="M30.4 371 H27.6 V373.8 Z" fill="#d0d0d4"/>
<path d="M17.2 359.6 H21.4 M19.3 359.6 V363.8" stroke="#3b3b6b" stroke-width="1.4"/>
<path d="M23 360.2 H29.3 M23 363.2 H29.3 M17 366.4 H29.3 M17 369.5 H25.6" stroke="#cfcfe2" stroke-width="0.8"/>
<g filter="url(#ish)">
<path d="M15.4 390 L19.5 388.6 L22.6 402.6 L18.5 404 Z" fill="#fff"/>
<rect x="18.8" y="389" width="12.1" height="14.9" rx="0.5" fill="#fff"/>
</g>
<rect x="17.2" y="392" width="1.6" height="2.9" fill="#5bb6ee"/>
<rect x="20.7" y="392" width="3.3" height="3.2" rx="0.3" fill="#b35ff0"/>
<path d="M25 392.5 H29.3 M25 394.3 H28.3 M20.9 398.3 H29.3 M20.9 400.2 H29.3" stroke="#d0d0d6" stroke-width="0.8"/>
<g filter="url(#ish)">
<rect x="15.9" y="419.8" width="4.3" height="9.5" fill="#ece8fd"/>
<rect x="20.9" y="419.8" width="4.7" height="13.2" fill="#e9e9eb"/>
<rect x="26.2" y="419.8" width="4.2" height="7.4" fill="#fcd4f5"/>
</g>
<rect x="15.9" y="419.8" width="4.3" height="1.1" fill="#7a6cfd"/>
<rect x="20.9" y="419.8" width="4.7" height="1.1" fill="#9e9ea6"/>
<rect x="26.2" y="419.8" width="4.2" height="1.1" fill="#f059d5"/>
<g fill="#8a8a8e"><circle cx="18" cy="450.9" r="1.15"/><circle cx="23.1" cy="450.9" r="1.15"/><circle cx="28.3" cy="450.9" r="1.15"/></g>
</g>

<!-- bottom-left icon -->
<g fill="none" stroke="#505050" stroke-width="1.1" stroke-linecap="round" stroke-linejoin="round">
<path d="M26.8 545.2 V543.2 C26.8 542.6 26.5 542.3 25.9 542.3 H17.2 C16.6 542.3 16.3 542.6 16.3 543.2 V549.6 C16.3 550.2 16.6 550.5 17.2 550.5 H22.4"/>
<path d="M18.3 544.4 H19.6 M18.3 546.5 H19.6 M18.3 548.5 H19.6"/>
</g>
<path d="M25.3 551.2 C23.6 549.6 22.9 548.7 22.9 547.6 A2.4 2.4 0 0 1 27.7 547.6 C27.7 548.7 27 549.6 25.3 551.2 Z" fill="#3a3a3a"/>
<circle cx="25.3" cy="547.5" r="0.8" fill="#fff"/>

<!-- bottom-right toolbars -->
<g fill="none" stroke="#4a4a4a" stroke-width="1.3" stroke-linecap="round" stroke-linejoin="round">
<path d="M964 541.6 L967.3 538.4 M964 541.6 L967.3 544.8 M964.2 541.6 H966.5 C969.8 541.6 972.2 544.2 972.2 548.4"/>
<path d="M1006.8 541.6 L1003.5 538.4 M1006.8 541.6 L1003.5 544.8 M1006.6 541.6 H1004.3 C1001 541.6 998.6 544.2 998.6 548.4"/>
<path d="M1036.4 539.2 L1045 544.9 L1040.4 545.8 L1037.6 549.2 Z"/>
<circle cx="1073.4" cy="543" r="4.6"/>
<path d="M1071.3 543 H1075.5 M1076.7 546.3 L1078.8 548.2"/>
<path d="M1120.1 543.1 L1122.9 545.8 L1125.7 543.1" stroke-width="1.1"/>
<circle cx="1139.9" cy="542.7" r="4.6"/>
<path d="M1137.8 542.7 H1142 M1139.9 540.6 V544.8 M1143.2 546 L1145.2 547.9"/>
<path d="M1169.5 540.2 L1173.5 539.2 L1178 540.2 L1182 539.2 V547.2 L1178 548.2 L1173.5 547.2 L1169.5 548.2 Z M1173.5 539.2 V547.2 M1178 540.2 V548.2" stroke-width="1.25"/>
</g>
<rect x="984.6" y="534" width="1" height="20" fill="#ededed"/>
<rect x="1057" y="534" width="1" height="20" fill="#ededed"/>
<rect x="1158.2" y="534" width="1" height="20" fill="#ededed"/>
</svg>


<!-- cursors -->
<svg style="left:0;top:0" width="1200" height="568">
<path d="M91 152.4 L110.7 159 L101.8 164 L97.6 172.1 Z" fill="#85c8fd" stroke="#85c8fd" stroke-width="1.5" stroke-linejoin="round" style="filter:drop-shadow(0 3px 5px rgba(0,0,0,0.07))"/>
<path d="M790.3 303.5 L810.4 310.3 L800.5 315.4 L797.3 323 Z" fill="#ff6fe0" stroke="#ff6fe0" stroke-width="1.5" stroke-linejoin="round" style="filter:drop-shadow(0 3px 5px rgba(0,0,0,0.08))"/>
</svg>
<div class="a" style="left:104.6px;top:168.2px;width:71.4px;height:36.8px;border-radius:18.4px;background:#85c8fd;color:#fff;font-size:13px;font-weight:bold;line-height:41px;text-align:center;box-shadow:0 8px 22px rgba(0,0,0,0.08)">灵光</div>
<div class="a" style="left:804px;top:318.8px;width:71.4px;height:37px;border-radius:18.5px;background:#ff6fe0;color:#fff;font-size:17px;font-weight:bold;line-height:39px;text-align:center;box-shadow:0 8px 24px rgba(0,0,0,0.11)">知知</div>

</div>
<div id="brd"></div>
</body></html>
